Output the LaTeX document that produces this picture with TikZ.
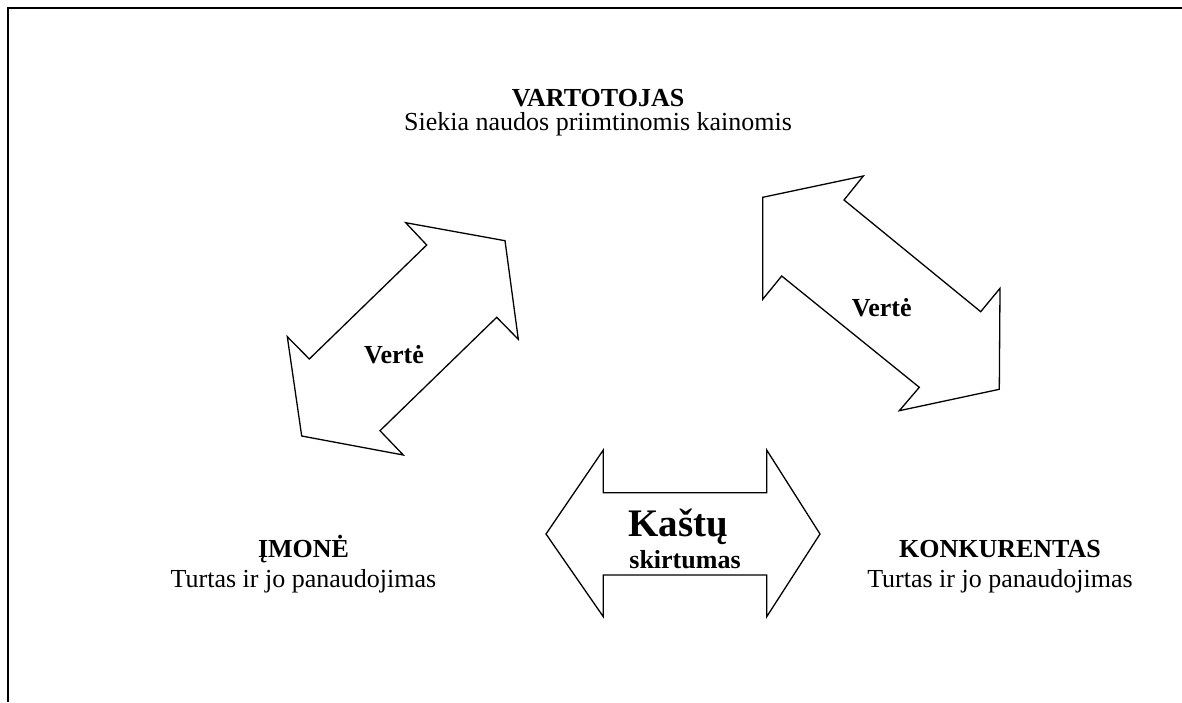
\documentclass[tikz,border=0pt]{standalone}
\usepackage{fontspec}
\setmainfont{Liberation Serif}
\begin{document}
\begin{tikzpicture}[x=1pt,y=-1pt,
  frame/.style={line width=2.2pt},
  blockarrow/.style={draw=black,line width=1.3pt,line join=miter,fill=white},
  title/.style={anchor=base,inner sep=0pt,font=\fontsize{26}{30}\selectfont\bfseries},
  body/.style={anchor=base,inner sep=0pt,font=\fontsize{26}{30}\selectfont},
  arrowlabel/.style={anchor=base,inner sep=0pt,font=\fontsize{26}{30}\selectfont\bfseries}]
\useasboundingbox (0,0) rectangle (1182,702);

% open frame: top and left edges
\draw[frame] (8,702) -- (8,8) -- (1182,8);

% left double arrow (ĮMONĖ -- VARTOTOJAS)
\draw[blockarrow] (426.7,245) -- (405.7,222.7) -- (505,240.7) -- (518.3,339.3)
  -- (496.7,317.3) -- (380,430.7) -- (403.3,455) -- (301.7,436) -- (287.3,336.7)
  -- (309.3,359) -- cycle;

% right double arrow (VARTOTOJAS -- KONKURENTAS)
\draw[blockarrow] (762.7,197.3) -- (863.3,176) -- (844,200) -- (980.7,311.7)
  -- (1000,288.3) -- (999.3,389.3) -- (899.3,410.7) -- (919.3,387.3)
  -- (781.7,276) -- (762.7,299.3) -- cycle;

% horizontal double arrow (ĮMONĖ -- KONKURENTAS)
\draw[blockarrow] (546,534) -- (603.3,450) -- (603.3,492.7) -- (766.7,492.7)
  -- (766.7,450) -- (820,534) -- (766.7,616.7) -- (766.7,575) -- (603.3,575)
  -- (603.3,616.7) -- cycle;

% texts
\node[title] (vart) at (598,106.7) {VARTOTOJAS};
\node[body] (vartd) at (598,130.7) {Siekia naudos priimtinomis kainomis};

\node[title] (imone) at (303.5,557) {ĮMONĖ};
\node[body] (imoned) at (303.5,587) {Turtas ir jo panaudojimas};

\node[title] (konk) at (1000,557) {KONKURENTAS};
\node[body] (konkd) at (1000,587) {Turtas ir jo panaudojimas};

\node[arrowlabel] (v1) at (394,363.3) {Vertė};
\node[arrowlabel] (v2) at (881.7,316.7) {Vertė};

\node[anchor=base,inner sep=0pt,font=\fontsize{39}{44}\selectfont\bfseries] (kast) at (678,536.7) {Kaštų};
\node[arrowlabel] (skirt) at (685,568.3) {skirtumas};
\end{tikzpicture}
\end{document}
